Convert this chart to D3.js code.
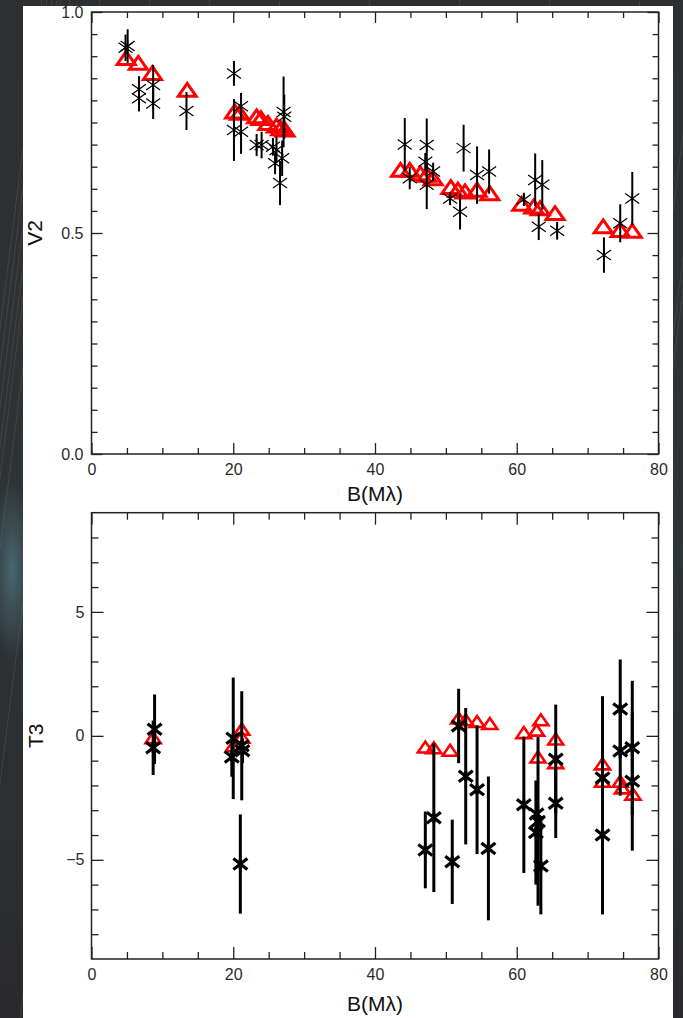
<!DOCTYPE html>
<html>
<head>
<meta charset="utf-8">
<script src="https://cdn.jsdelivr.net/npm/d3@7"></script>
<style>
html,body{margin:0;padding:0;background:#2b2b2b;}
svg{display:block;}
text{font-family:"Liberation Sans",Arial,Helvetica,sans-serif;}
</style>
</head>
<body>
<svg id="chart" width="683" height="1018"></svg>
<script>
// ---------- DATA ----------
// Top panel: squared visibility V2 vs baseline B (Mλ)
const v2ObsB   = [4.8,5.1,6.7,6.7,8.7,8.7,13.4,20.1,20.1,21.1,21.1,23.3,24.0,25.6,25.9,26.1,26.6,27.1,27.2,26.9,
                  44.2,44.9,47.3,47.1,47.3,48.2,50.6,52.0,52.5,54.4,56.1,61.0,62.6,63.6,63.1,65.7,72.3,74.6,76.3];
const v2Obs    = [0.919,0.923,0.825,0.805,0.835,0.793,0.776,0.861,0.733,0.787,0.729,0.699,0.699,0.695,0.658,0.688,0.613,0.774,0.763,0.669,
                  0.700,0.624,0.699,0.661,0.609,0.639,0.578,0.548,0.692,0.631,0.639,0.576,0.620,0.609,0.514,0.505,0.450,0.522,0.578];
const v2Err    = [0.03,0.038,0.03,0.03,0.045,0.035,0.043,0.028,0.07,0.03,0.05,0.025,0.03,0.02,0.025,0.03,0.05,0.08,0.05,0.04,
                  0.06,0.025,0.06,0.02,0.055,0.02,0.015,0.04,0.053,0.065,0.05,0.015,0.06,0.056,0.03,0.02,0.04,0.043,0.06];
const v2ModelB = [4.9,6.6,8.6,13.5,20.2,20.9,23.3,23.9,24.9,26.1,26.7,27.3,
                  43.6,44.9,46.4,47.3,48.2,50.7,51.7,52.7,54.4,56.2,60.7,62.4,63.3,65.4,72.2,74.6,76.3];
const v2Model  = [0.896,0.885,0.862,0.824,0.775,0.772,0.764,0.760,0.749,0.743,0.737,0.734,
                  0.643,0.643,0.635,0.632,0.624,0.604,0.598,0.594,0.598,0.590,0.566,0.560,0.556,0.545,0.515,0.507,0.505];

// Bottom panel: closure phase T3 vs baseline B (Mλ)
const t3ObsB   = [8.9,8.7,20.0,19.8,21.2,21.3,21.0,47.1,48.3,50.9,51.8,52.8,54.4,56.0,61.0,62.8,63.0,62.7,63.4,65.5,65.5,72.1,72.1,74.6,74.6,76.3,76.3];
const t3Obs    = [0.27,-0.48,-0.1,-0.85,-0.4,-0.6,-5.17,-4.6,-3.3,-5.08,0.4,-1.63,-2.17,-4.54,-2.78,-3.15,-3.45,-3.9,-5.25,-0.94,-2.72,-1.7,-4.0,1.08,-0.61,-0.48,-1.83];
const t3Err    = [1.4,1.1,2.45,0.8,2.2,0.5,2.0,1.55,3.0,1.7,1.5,2.75,2.6,2.9,2.75,1.2,3.4,2.1,1.95,2.2,1.4,3.3,3.2,2.0,1.8,2.7,2.8];
const t3ModelB = [8.7,20.0,21.2,21.2,47.1,48.3,50.6,51.8,52.8,54.4,56.2,61.0,62.8,63.4,63.0,65.5,65.5,72.1,72.1,74.6,74.9,76.4];
const t3Model  = [-0.07,-0.4,0.27,-0.05,-0.45,-0.48,-0.58,0.72,0.65,0.58,0.5,0.13,0.23,0.65,-0.85,-0.13,-1.08,-1.13,-1.83,-1.83,-2.1,-2.35];

const xMajor = [0,20,40,60,80];
const xMinor = [5,10,15,25,30,35,45,50,55,65,70,75];
const v2Major = [0,0.5,1.0];
const v2MajorLabels = ["0.0","0.5","1.0"];
const v2Minor = [0.05,0.1,0.15,0.2,0.25,0.3,0.35,0.4,0.45,0.55,0.6,0.65,0.7,0.75,0.8,0.85,0.9,0.95];
const t3Major = [-5,0,5];
const t3MajorLabels = ["\u22125","0","5"];
const t3Minor = [-8,-7,-6,-4,-3,-2,-1,1,2,3,4,6,7,8];
const xTitle = "B(M\u03bb)";

// ---------- LAYOUT ----------
const svg = d3.select("#chart");
const W = 683, H = 1018;
const defs = svg.append("defs");

// background with faint star-trail streaks
const bg = svg.append("g");
const grad = defs.append("linearGradient").attr("id","bgG").attr("x1",0).attr("y1",0).attr("x2",0).attr("y2",1);
grad.append("stop").attr("offset","0%").attr("stop-color","#2e2f31");
grad.append("stop").attr("offset","55%").attr("stop-color","#2f3436");
grad.append("stop").attr("offset","100%").attr("stop-color","#2a2a2c");
const glow = defs.append("radialGradient").attr("id","glowG");
glow.append("stop").attr("offset","0%").attr("stop-color","#5d8f9c").attr("stop-opacity",0.55);
glow.append("stop").attr("offset","100%").attr("stop-color","#5d8f9c").attr("stop-opacity",0);
bg.append("rect").attr("width",W).attr("height",H).attr("fill","url(#bgG)");
const streakX = [2,7,12,17,21,30,60,110,170,240,330,420,510,600,660,676,680];
bg.selectAll("line.streak").data(streakX).join("line")
  .attr("x1",d=>d+40).attr("y1",0).attr("x2",d=>d-90).attr("y2",H)
  .attr("stroke","#8a8a8a").attr("stroke-opacity",0.22).attr("stroke-width",1);
bg.append("ellipse").attr("cx",12).attr("cy",570).attr("rx",22).attr("ry",90).attr("fill","url(#glowG)");

// white page
svg.append("rect").attr("x",23).attr("y",6).attr("width",650).attr("height",H-6).attr("fill","#ffffff");

const X0 = 91.5, X1 = 658.5;

function drawPanel(cfg){
  const g = svg.append("g");
  const x = d3.scaleLinear([0,80],[X0,X1]);
  const y = d3.scaleLinear(cfg.yDomain,[cfg.bottom,cfg.top]);
  const majLen = cfg.majLen, minLen = cfg.minLen;
  const axStyle = sel => {
    sel.select(".domain").remove();
    sel.selectAll(".tick line").attr("stroke","#222").attr("stroke-width",1.3);
    sel.selectAll(".tick text").attr("fill","#2a2a2a").style("font-size","16px");
  };
  // bottom axis
  g.append("g").attr("transform",`translate(0,${cfg.bottom})`)
    .call(d3.axisBottom(x).tickValues(xMajor).tickSize(-majLen).tickPadding(10).tickFormat(d3.format("d"))).call(axStyle);
  g.append("g").attr("transform",`translate(0,${cfg.bottom})`)
    .call(d3.axisBottom(x).tickValues(xMinor).tickSize(-minLen).tickFormat("")).call(axStyle);
  // top axis
  g.append("g").attr("transform",`translate(0,${cfg.top})`)
    .call(d3.axisTop(x).tickValues(xMajor).tickSize(-majLen).tickFormat("")).call(axStyle);
  g.append("g").attr("transform",`translate(0,${cfg.top})`)
    .call(d3.axisTop(x).tickValues(xMinor).tickSize(-minLen).tickFormat("")).call(axStyle);
  // left axis
  g.append("g").attr("transform",`translate(${X0},0)`)
    .call(d3.axisLeft(y).tickValues(cfg.yMajor).tickSize(-majLen).tickPadding(cfg.yPad)
      .tickFormat((d,i)=>cfg.yLabels[i])).call(axStyle);
  g.append("g").attr("transform",`translate(${X0},0)`)
    .call(d3.axisLeft(y).tickValues(cfg.yMinor).tickSize(-minLen).tickFormat("")).call(axStyle);
  // right axis
  g.append("g").attr("transform",`translate(${X1},0)`)
    .call(d3.axisRight(y).tickValues(cfg.yMajor).tickSize(-majLen).tickFormat("")).call(axStyle);
  g.append("g").attr("transform",`translate(${X1},0)`)
    .call(d3.axisRight(y).tickValues(cfg.yMinor).tickSize(-minLen).tickFormat("")).call(axStyle);
  // frame
  g.append("rect").attr("x",X0).attr("y",cfg.top).attr("width",X1-X0).attr("height",cfg.bottom-cfg.top)
    .attr("fill","none").attr("stroke","#222").attr("stroke-width",1.5);
  // titles
  g.append("text").attr("x",(X0+X1)/2).attr("y",cfg.bottom+cfg.xTitleDy).attr("text-anchor","middle")
    .style("font-size","21px").attr("fill","#111").text(xTitle);
  g.append("text").attr("transform",`translate(${cfg.yTitleX},${(cfg.top+cfg.bottom)/2}) rotate(-90)`)
    .attr("text-anchor","middle").attr("dy","0.36em").style("font-size","21px").attr("fill","#111").text(cfg.yTitle);

  // model (red triangles)
  const th = cfg.tri;
  const triPath = `M${-th.w},${th.h} L0,${-th.h} L${th.w},${th.h} Z`;
  g.append("g").selectAll("path").data(d3.zip(cfg.modB,cfg.mod)).join("path")
    .attr("transform",d=>`translate(${x(d[0])},${y(d[1])})`)
    .attr("d",triPath).attr("fill","none").attr("stroke","#ff0000")
    .attr("stroke-width",th.sw).attr("stroke-linejoin","miter");

  // observed (black error bars + asterisks)
  const obs = d3.zip(cfg.obsB,cfg.obs,cfg.err);
  g.append("g").selectAll("line").data(obs).join("line")
    .attr("x1",d=>x(d[0])).attr("x2",d=>x(d[0]))
    .attr("y1",d=>y(d[1]+d[2])).attr("y2",d=>y(d[1]-d[2]))
    .attr("stroke","#000").attr("stroke-width",cfg.errW);
  const a = cfg.ast;
  const astPath = `M${-a.dx},${-a.dy}L${a.dx},${a.dy}M${-a.dx},${a.dy}L${a.dx},${-a.dy}M0,${-a.v}L0,${a.v}`;
  g.append("g").selectAll("path").data(obs).join("path")
    .attr("transform",d=>`translate(${x(d[0])},${y(d[1])})`)
    .attr("d",astPath).attr("fill","none").attr("stroke","#000").attr("stroke-width",a.sw);
}

drawPanel({
  yDomain:[0,1], top:12, bottom:454, majLen:11, minLen:6, yPad:8,
  yMajor:v2Major, yLabels:v2MajorLabels, yMinor:v2Minor,
  yTitle:"V2", yTitleX:34, xTitleDy:47,
  obsB:v2ObsB, obs:v2Obs, err:v2Err, modB:v2ModelB, mod:v2Model,
  errW:2, ast:{dx:7,dy:5,v:6,sw:1.2}, tri:{w:9,h:6.5,sw:3}
});
drawPanel({
  yDomain:[-9,9], top:512.7, bottom:959, majLen:12, minLen:7, yPad:7,
  yMajor:t3Major, yLabels:t3MajorLabels, yMinor:t3Minor,
  yTitle:"T3", yTitleX:35, xTitleDy:52,
  obsB:t3ObsB, obs:t3Obs, err:t3Err, modB:t3ModelB, mod:t3Model,
  errW:3, ast:{dx:7,dy:5.5,v:5,sw:3.2}, tri:{w:7.5,h:5.5,sw:2.6}
});
</script>
</body>
</html>
